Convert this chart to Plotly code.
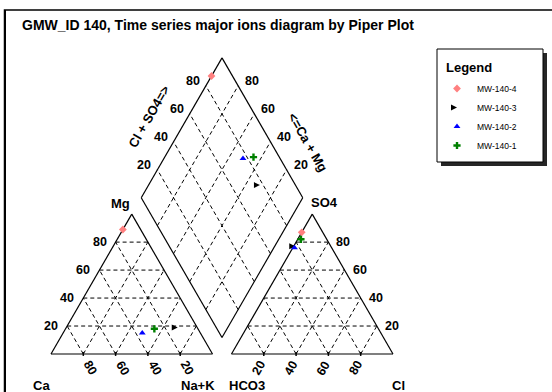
import math
import plotly.graph_objects as go

# ---------------- data ----------------
title_text = "GMW_ID 140, Time series major ions diagram by Piper Plot"
samples = ["MW-140-4", "MW-140-3", "MW-140-2", "MW-140-1"]
ca = [11, 12, 36, 27]
mg = [89, 19, 15, 18]
nak = [0, 69, 49, 55]
hco3 = [13, 22, 23, 16]
so4 = [87, 77, 76, 82]
cl = [0, 1, 1, 2]
colors = ["#ff8080", "#000000", "#0000ff", "#008000"]
symbols = ["diamond", "arrow-right", "triangle-up", "cross"]
tick_vals = [20, 40, 60, 80]

# ---------------- geometry ----------------
W, HGT = 552, 392
S = 161.5          # px per triangle side
X0, Y0 = 51, 354   # px of Ca corner
H = math.sqrt(3) / 2
GAP = 0.1176
OX = 1 + GAP
BX, BY = 1 + GAP / 2, GAP * H

FONT = "Liberation Sans, Arial, sans-serif"


def cat_xy(a, m, n):
    t = a + m + n
    return n / t + m / t / 2, m / t * H


def an_xy(h, s, c):
    t = h + s + c
    return OX + c / t + s / t / 2, s / t * H


def dia_xy(cm, ss):
    return BX + 0.5 * (ss - cm), BY + H * (cm + ss)


def seg_trace(segs, dash=None, width=1.0):
    xs, ys = [], []
    for (x1, y1), (x2, y2) in segs:
        xs += [x1, x2, None]
        ys += [y1, y2, None]
    line = dict(color="black", width=width)
    if dash:
        line["dash"] = dash
    return go.Scatter(x=xs, y=ys, mode="lines", line=line, hoverinfo="skip", showlegend=False)


fig = go.Figure()

# outlines
outline = []
tri_l = [(0, 0), (1, 0), (0.5, H)]
tri_r = [(OX, 0), (OX + 1, 0), (OX + 0.5, H)]
dia = [dia_xy(0, 0), dia_xy(1, 0), dia_xy(1, 1), dia_xy(0, 1)]
for poly in (tri_l, tri_r, dia):
    for i in range(len(poly)):
        outline.append((poly[i], poly[(i + 1) % len(poly)]))

grid = []
ticks = []
for tv in tick_vals:
    v = tv / 100
    for ox in (0, OX):
        grid.append(((ox + v / 2, v * H), (ox + 1 - v / 2, v * H)))
        grid.append(((ox + v, 0), (ox + v + (1 - v) / 2, (1 - v) * H)))
        grid.append(((ox + 1 - v, 0), (ox + (1 - v) / 2, (1 - v) * H)))
        ticks.append(((ox + v, 0.012), (ox + v, -0.012)))
    grid.append((dia_xy(v, 0), dia_xy(v, 1)))
    grid.append((dia_xy(0, v), dia_xy(1, v)))

fig.add_trace(seg_trace(grid, dash="4px,3px", width=1))
fig.add_trace(seg_trace(outline, width=1.2))
fig.add_trace(seg_trace(ticks, width=1.5))

# samples
for i, name in enumerate(samples):
    p1 = cat_xy(ca[i], mg[i], nak[i])
    p2 = an_xy(hco3[i], so4[i], cl[i])
    cm = (ca[i] + mg[i]) / (ca[i] + mg[i] + nak[i])
    ss = (so4[i] + cl[i]) / (hco3[i] + so4[i] + cl[i])
    p3 = dia_xy(cm, ss)
    fig.add_trace(go.Scatter(
        x=[p1[0], p2[0], p3[0]], y=[p1[1], p2[1], p3[1]],
        mode="markers", name=name,
        marker=dict(symbol=symbols[i], color=colors[i], size=6,
                    line=dict(width=0, color=colors[i])),
    ))

ann = []


def A(x, y, text, size=12.5, xshift=0, yshift=0, xanchor="center", angle=0, family=FONT):
    ann.append(dict(x=x, y=y, xref="x", yref="y", text="<b>%s</b>" % text, showarrow=False,
                    xanchor=xanchor, yanchor="middle", xshift=xshift, yshift=yshift,
                    textangle=angle, font=dict(size=size, color="black", family=family)))


for tv in tick_vals:
    v = tv / 100
    # Mg labels (left side of cation triangle)
    A(v / 2, v * H, str(tv), xshift=-7, xanchor="right")
    # Ca labels at base (rotated)
    A(v, 0, str(100 - tv), xshift=7, yshift=-14, angle=60)
    # Cl labels at base of anion triangle
    A(OX + v, 0, str(tv), xshift=-5, yshift=-14, angle=-60)
    # SO4 labels on right side
    A(OX + 1 - v / 2, v * H, str(tv), xshift=6, xanchor="left")
    # diamond upper-left (Cl+SO4)
    x, y = dia_xy(1, v)
    A(x, y, str(tv), xshift=-4, yshift=5, xanchor="right")
    # diamond upper-right (Ca+Mg)
    x, y = dia_xy(v, 1)
    A(x, y, str(tv), xshift=5, yshift=5, xanchor="left")

# vertex names
A(0.5, H, "Mg", size=13, xshift=-11, yshift=11)
A(OX + 0.5, H, "SO4", size=13, xshift=12, yshift=12)
A(0, 0, "Ca", size=13, xshift=-10, yshift=-31)
A(1, 0, "Na+K", size=13, xshift=-15, yshift=-31)
A(OX, 0, "HCO3", size=13, xshift=16, yshift=-31)
A(OX + 1, 0, "Cl", size=13, xshift=6, yshift=-31)
x, y = dia_xy(1, 0.46)
A(x, y, "Cl + SO4=>", size=13, xshift=-29, yshift=16.5, angle=-60)
x, y = dia_xy(0.28, 1)
A(x, y, "<=Ca + Mg", size=13, xshift=27.7, yshift=16, angle=60)

# title and legend heading
ann.append(dict(x=20 / W, y=1 - 25 / HGT, xref="paper", yref="paper", text="<b>%s</b>" % title_text,
                showarrow=False, xanchor="left", yanchor="middle",
                font=dict(size=14, color="black", family=FONT)))
ann.append(dict(x=444 / W, y=1 - 67 / HGT, xref="paper", yref="paper", text="<b>Legend</b>",
                showarrow=False, xanchor="left", yanchor="middle",
                font=dict(size=13, color="black", family=FONT)))


def px(xp):
    return xp / W


def py(yp):
    return 1 - yp / HGT


shapes = [
    # outer frame
    dict(type="rect", xref="paper", yref="paper", x0=px(4.5), y0=py(400), x1=px(560), y1=py(10),
         line=dict(color="black", width=1.5)),
    dict(type="line", xref="paper", yref="paper", x0=px(5), y0=py(10), x1=px(5), y1=py(400),
         line=dict(color="black", width=2)),
    # legend shadow and box
    dict(type="rect", xref="paper", yref="paper", x0=px(441), y0=py(166), x1=px(547), y1=py(53),
         fillcolor="#262626", line=dict(width=0), layer="below"),
    dict(type="rect", xref="paper", yref="paper", x0=px(437), y0=py(162), x1=px(543), y1=py(49),
         fillcolor="white", line=dict(color="black", width=1), layer="below"),
]

fig.update_layout(
    width=W, height=HGT, autosize=False,
    margin=dict(l=0, r=0, t=0, b=0),
    paper_bgcolor="white", plot_bgcolor="rgba(0,0,0,0)",
    xaxis=dict(range=[-X0 / S, (W - X0) / S], visible=False, fixedrange=True),
    yaxis=dict(range=[(Y0 - HGT) / S, Y0 / S], visible=False, fixedrange=True),
    annotations=ann, shapes=shapes,
    showlegend=True,
    legend=dict(x=px(437), y=py(74), xanchor="left", yanchor="top",
                bgcolor="rgba(0,0,0,0)", borderwidth=0, tracegroupgap=0,
                font=dict(size=8.5, family=FONT, color="black"),
                itemclick=False, itemdoubleclick=False),
)

fig.write_html(
    "out.html",
    config={"displayModeBar": False},
    post_script="document.body.style.margin='0';document.body.style.overflow='hidden';",
)
